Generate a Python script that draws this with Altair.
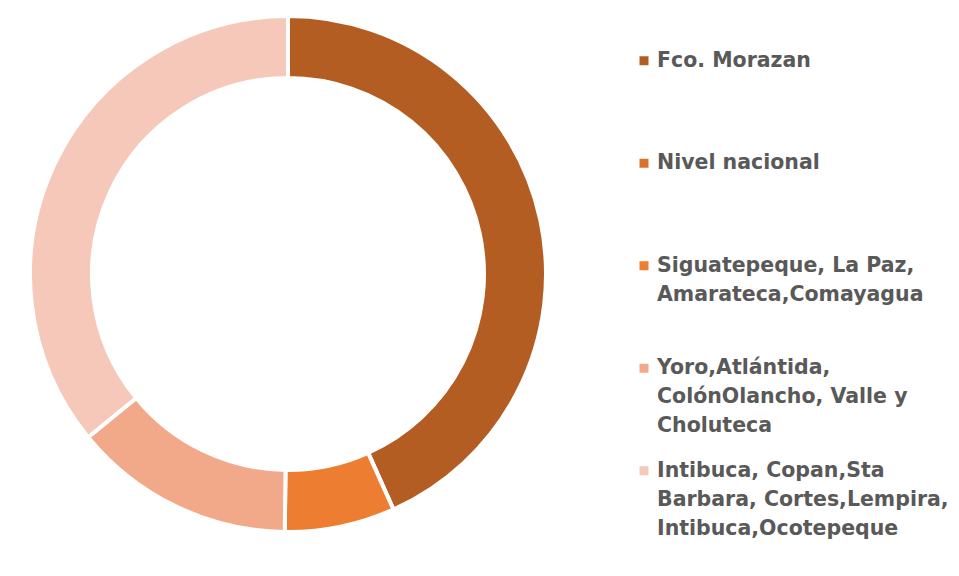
import altair as alt
import pandas as pd

categories = [
    "Fco. Morazan",
    "Nivel nacional",
    "Siguatepeque, La Paz, Amarateca,Comayagua",
    "Yoro,Atlántida, ColónOlancho, Valle y Choluteca",
    "Intibuca, Copan,Sta Barbara, Cortes,Lempira, Intibuca,Ocotepeque",
]
values = [43.3, 0.0, 6.9, 13.9, 35.9]
colors = ["#B35D22", "#D9722D", "#ED7D31", "#F1A98A", "#F6C8B9"]
legend_lines = [
    ["Fco. Morazan"],
    ["Nivel nacional"],
    ["Siguatepeque, La Paz,", "Amarateca,Comayagua"],
    ["Yoro,Atlántida,", "ColónOlancho, Valle y", "Choluteca"],
    ["Intibuca, Copan,Sta", "Barbara, Cortes,Lempira,", "Intibuca,Ocotepeque"],
]

ENTRY_STEP = 3.534  # entry spacing measured in text lines

pie_df = pd.DataFrame({"cat": categories, "value": values, "idx": range(len(categories))})

rows = []
for i, (cat, lines) in enumerate(zip(categories, legend_lines)):
    for j, line in enumerate(lines):
        rows.append({"cat": cat, "entry": i, "line": j, "text": line})
leg_df = pd.DataFrame(rows)

color_scale = alt.Scale(domain=categories, range=colors)

donut = (
    alt.Chart(pie_df)
    .mark_arc(radius=258, innerRadius=196, stroke="white", strokeWidth=4)
    .encode(
        theta=alt.Theta("value:Q", stack=True),
        color=alt.Color("cat:N", scale=color_scale, legend=None),
        order=alt.Order("idx:Q"),
    )
    .properties(width=560, height=528)
)

ysc = alt.Scale(domain=[-1.75, 16.456], reverse=True, nice=False, zero=False)

leg_base = alt.Chart(leg_df).transform_calculate(
    pos=f"datum.entry * {ENTRY_STEP} + datum.line"
)

squares = (
    leg_base.transform_filter("datum.line == 0")
    .mark_square(size=81, opacity=1)
    .encode(
        x=alt.value(76),
        y=alt.Y("pos:Q", scale=ysc, axis=None),
        color=alt.Color("cat:N", scale=color_scale, legend=None),
    )
)

texts = leg_base.mark_text(
    align="left",
    baseline="middle",
    font="DejaVu Sans",
    fontSize=20.5,
    fontWeight="bold",
    color="#595959",
).encode(
    x=alt.value(89),
    y=alt.Y("pos:Q", scale=ysc, axis=None),
    text="text:N",
)

legend = alt.layer(squares, texts).properties(width=370, height=528)

chart = (
    alt.hconcat(donut, legend, spacing=0)
    .properties(padding=0, background="white")
    .configure_view(strokeWidth=0, stroke=None)
)

chart.save("out.html", embed_options={"renderer": "svg", "actions": False})
